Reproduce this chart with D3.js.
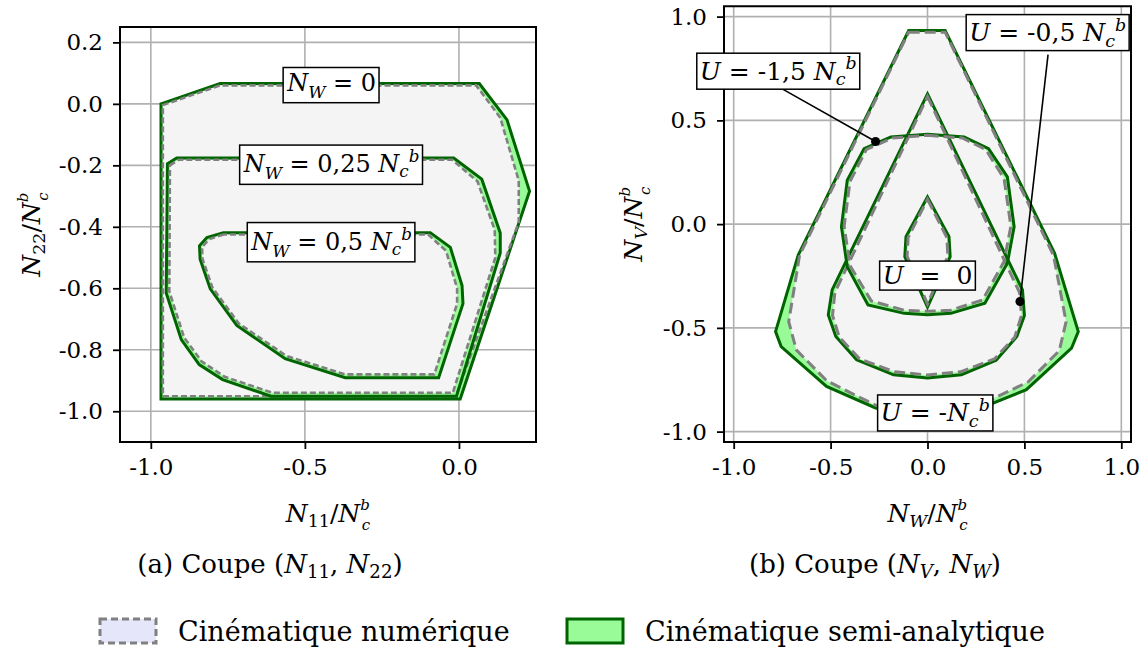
<!DOCTYPE html>
<html><head><meta charset="utf-8">
<script src="https://cdn.jsdelivr.net/npm/d3@7"></script>
<style>
body{margin:0;background:#fff}
svg{display:block}
text{font-family:"DejaVu Serif","Liberation Serif","Noto Serif",serif;white-space:pre;fill:#000}
</style>
</head><body>
<svg id="chart" width="1145" height="650"></svg>
<script>
// ---------------- DATA ----------------
// Panel (a): coupe (N11, N22), one contour per N_W level
const nwLevels = ["0", "0,25", "0,5"];
const semiA_NW0   = [[-0.967,0.0],[-0.775,0.066],[0.066,0.066],[0.156,-0.052],[0.229,-0.284],[0.004,-0.96],[-0.967,-0.96]];
const num_NW0     = [[-0.961,-0.004],[-0.775,0.060],[0.056,0.060],[0.134,-0.045],[0.194,-0.250],[0.194,-0.385],[-0.010,-0.951],[-0.961,-0.951]];
const semiA_NW025 = [[-0.946,-0.195],[-0.916,-0.176],[-0.017,-0.176],[0.074,-0.245],[0.134,-0.420],[0.134,-0.485],[-0.008,-0.951],[-0.610,-0.951],[-0.767,-0.897],[-0.843,-0.848],[-0.901,-0.767],[-0.950,-0.615]];
const num_NW025   = [[-0.938,-0.200],[-0.910,-0.182],[-0.022,-0.182],[0.060,-0.252],[0.116,-0.410],[0.118,-0.500],[-0.020,-0.940],[-0.605,-0.940],[-0.760,-0.888],[-0.835,-0.838],[-0.892,-0.760],[-0.940,-0.610]];
const semiA_NW05  = [[-0.764,-0.419],[-0.818,-0.435],[-0.842,-0.462],[-0.840,-0.505],[-0.807,-0.602],[-0.721,-0.721],[-0.564,-0.829],[-0.369,-0.891],[-0.066,-0.891],[0.013,-0.650],[0.010,-0.591],[-0.028,-0.467],[-0.093,-0.419]];
const num_NW05    = [[-0.764,-0.425],[-0.810,-0.440],[-0.834,-0.466],[-0.832,-0.505],[-0.800,-0.598],[-0.715,-0.714],[-0.560,-0.820],[-0.370,-0.880],[-0.080,-0.880],[-0.006,-0.650],[-0.006,-0.600],[-0.042,-0.478],[-0.100,-0.425]];

// Panel (b): coupe (N_V, N_W), one contour per U level
const uLevels = ["-N", "-0,5", "-1,5", "0"];
const semiA_Um1  = [[-0.097,0.933],[0.091,0.933],[0.656,-0.141],[0.778,-0.518],[0.743,-0.598],[0.510,-0.798],[0.276,-0.886],[0.0,-0.918],[-0.268,-0.886],[-0.521,-0.782],[-0.755,-0.590],[-0.784,-0.518],[-0.667,-0.149]];
const num_Um1    = [[-0.097,0.925],[0.091,0.925],[0.650,-0.150],[0.715,-0.470],[0.680,-0.610],[0.520,-0.760],[0.270,-0.872],[0.0,-0.905],[-0.270,-0.872],[-0.520,-0.755],[-0.677,-0.606],[-0.716,-0.470],[-0.660,-0.150]];
const semiA_Um05 = [[0.0,0.628],[0.490,-0.317],[0.500,-0.440],[0.461,-0.542],[0.354,-0.656],[0.175,-0.726],[0.0,-0.742],[-0.175,-0.726],[-0.366,-0.654],[-0.473,-0.542],[-0.512,-0.437],[-0.492,-0.317]];
const num_Um05   = [[0.0,0.615],[0.475,-0.330],[0.485,-0.440],[0.450,-0.545],[0.345,-0.650],[0.170,-0.712],[0.0,-0.727],[-0.170,-0.712],[-0.350,-0.650],[-0.455,-0.545],[-0.490,-0.440],[-0.478,-0.330]];
const semiA_Um15 = [[0.0,0.433],[0.189,0.420],[0.315,0.364],[0.412,0.228],[0.447,-0.013],[0.412,-0.189],[0.296,-0.381],[0.120,-0.430],[0.0,-0.437],[-0.120,-0.430],[-0.307,-0.389],[-0.414,-0.205],[-0.444,-0.013],[-0.414,0.212],[-0.327,0.364],[-0.189,0.420]];
const num_Um15   = [[0.0,0.428],[0.180,0.415],[0.300,0.360],[0.395,0.220],[0.430,-0.010],[0.395,-0.180],[0.285,-0.365],[0.120,-0.415],[0.0,-0.420],[-0.120,-0.415],[-0.290,-0.370],[-0.400,-0.200],[-0.430,-0.010],[-0.400,0.205],[-0.315,0.360],[-0.180,0.415]];
const semiA_U0   = [[0.0,0.131],[0.111,-0.061],[0.117,-0.157],[0.0,-0.400],[-0.117,-0.157],[-0.111,-0.061]];
const num_U0     = [[0.0,0.120],[0.100,-0.065],[0.105,-0.155],[0.0,-0.385],[-0.105,-0.155],[-0.100,-0.065]];

// ticks
const ticksA_x = [-1.0, -0.5, 0.0];
const ticksA_y = [0.2, 0.0, -0.2, -0.4, -0.6, -0.8, -1.0];
const ticksB = [-1.0, -0.5, 0.0, 0.5, 1.0];

// annotation anchors (data coords)
const labelsA = [
  {lvl:"0",    at:[-0.415, 0.061]},
  {lvl:"0,25", at:[-0.415,-0.198]},
  {lvl:"0,5",  at:[-0.415,-0.450]}
];
const labelsB = [
  {lvl:"-1,5", at:[-0.770, 0.737], from:[-0.752,0.653], to:[-0.268,0.398]},
  {lvl:"-0,5", at:[ 0.620, 0.923], from:[ 0.622,0.817], to:[ 0.477,-0.373]},
  {lvl:"0",    at:[ 0.000,-0.248]},
  {lvl:"-N",   at:[ 0.040,-0.910]}
];

// ---------------- STYLE ----------------
const C = {green:"#006400", lightgreen:"#98fb98", gray:"#808080", fillNum:"#f4f4f4", grid:"#b0b0b0", lavender:"#e6e6fa"};
const FONT = '"DejaVu Serif","Liberation Serif","Noto Serif",serif';

const svg = d3.select("#chart");
svg.append("rect").attr("width",1145).attr("height",650).attr("fill","#fff");

function mtext(g, x, y, parts, size, anchor) {
  const t = g.append("text").attr("x",x).attr("y",y).attr("font-size",size)
    .attr("text-anchor",anchor||"middle");
  let cur = 0;
  parts.forEach(p => {
    const o = p[1] || {};
    const fs = (o.sub||o.sup) ? size*(o.k||0.7) : size;
    const off = o.sub ? size*(o.sub===true?0.22:o.sub) : o.sup ? -size*(o.sup===true?0.38:o.sup) : 0;
    const ts = t.append("tspan").attr("dy", off-cur).attr("font-size",fs)
      .attr("font-style", o.i ? "italic" : "normal").text(p[0]);
    if (o.dx) ts.attr("dx", o.dx);
    cur = off;
  });
  return t;
}

function drawPanel(cfg) {
  const g = svg.append("g");
  const x = d3.scaleLinear().domain(cfg.xd).range(cfg.xr);
  const y = d3.scaleLinear().domain(cfg.yd).range(cfg.yr);
  const clipId = "clip"+cfg.id;
  svg.append("clipPath").attr("id",clipId).append("rect")
    .attr("x",cfg.xr[0]).attr("y",cfg.yr[1]).attr("width",cfg.xr[1]-cfg.xr[0]).attr("height",cfg.yr[0]-cfg.yr[1]);
  const gg = g.append("g").attr("clip-path",`url(#${clipId})`);
  gg.selectAll(".gx").data(cfg.xt).join("line").attr("x1",d=>x(d)).attr("x2",d=>x(d))
    .attr("y1",cfg.yr[0]).attr("y2",cfg.yr[1]).attr("stroke",C.grid).attr("stroke-width",1.6);
  gg.selectAll(".gy").data(cfg.yt).join("line").attr("y1",d=>y(d)).attr("y2",d=>y(d))
    .attr("x1",cfg.xr[0]).attr("x2",cfg.xr[1]).attr("stroke",C.grid).attr("stroke-width",1.6);
  const line = d3.line().x(d=>x(d[0])).y(d=>y(d[1])).curve(d3.curveLinearClosed);
  cfg.polys.forEach(p => {
    gg.append("path").attr("d",line(p.semi)).attr("fill",C.lightgreen).attr("stroke","none");
    gg.append("path").attr("d",line(p.num)).attr("fill",C.fillNum).attr("stroke","none");
  });
  cfg.polys.forEach(p => {
    gg.append("path").attr("d",line(p.semi)).attr("fill","none").attr("stroke",C.green)
      .attr("stroke-width",3).attr("stroke-linejoin","miter");
    gg.append("path").attr("d",line(p.num)).attr("fill","none").attr("stroke",C.gray)
      .attr("stroke-width",cfg.dashW).attr("stroke-dasharray",cfg.dash);
  });
  const ax = g.append("g").attr("transform",`translate(0,${cfg.yr[0]})`)
    .call(d3.axisBottom(x).tickValues(cfg.xt).tickSize(7).tickPadding(6));
  const ay = g.append("g").attr("transform",`translate(${cfg.xr[0]},0)`)
    .call(d3.axisLeft(y).tickValues(cfg.yt).tickSize(7).tickPadding(10));
  [ax,ay].forEach(a => {
    a.attr("font-family",FONT);
    a.select(".domain").remove();
    a.selectAll(".tick line").attr("stroke","#000").attr("stroke-width",1.8);
    a.selectAll(".tick text").attr("font-size",23)
      .text(d => d3.format(".1f")(d).replace("\u2212","-"));
  });
  ax.selectAll(".tick text").attr("dy","0.88em");
  g.append("rect").attr("x",cfg.xr[0]).attr("y",cfg.yr[1]).attr("width",cfg.xr[1]-cfg.xr[0])
    .attr("height",cfg.yr[0]-cfg.yr[1]).attr("fill","none").attr("stroke","#000").attr("stroke-width",2);
  return {g, x, y};
}

// ---------------- PANEL A ----------------
const A = drawPanel({id:"a", xd:[-1.1,0.25], yd:[-1.1,0.25], xr:[120,536], yr:[442,27],
  xt:ticksA_x, yt:ticksA_y, dash:"6,3", dashW:2.6,
  polys:[{semi:semiA_NW0,num:num_NW0},{semi:semiA_NW025,num:num_NW025},{semi:semiA_NW05,num:num_NW05}]});

// ---------------- PANEL B ----------------
const B = drawPanel({id:"b", xd:[-1.05,1.05], yd:[-1.05,1.05], xr:[724,1131], yr:[442,6.25],
  xt:ticksB, yt:ticksB, dash:"11,5", dashW:3,
  polys:[{semi:semiA_Um1,num:num_Um1},{semi:semiA_Um05,num:num_Um05},{semi:semiA_Um15,num:num_Um15},{semi:semiA_U0,num:num_U0}]});

function boxLabel(g, cx, cy, parts, size, padX, padY) {
  const t = mtext(g, 0, 0, parts, size, "start");
  const bb = t.node().getBBox();
  const tx = cx - (bb.x + bb.width/2), ty = cy - (bb.y + bb.height/2);
  t.attr("transform",`translate(${tx},${ty})`);
  g.insert("rect", () => t.node())
    .attr("x", cx - bb.width/2 - padX).attr("y", cy - bb.height/2 - padY)
    .attr("width", bb.width + 2*padX).attr("height", bb.height + 2*padY)
    .attr("fill","#fff").attr("stroke","#000").attr("stroke-width",1.5);
}

// labels A
const la = svg.append("g");
labelsA.forEach(l => {
  const parts = [["N",{i:true}],["W",{i:true,sub:0.3}],[" = "+l.lvl,{}]];
  if (l.lvl !== "0") parts.push([" "],["N",{i:true}],["c",{i:true,sub:0.22}],["b",{i:true,sup:0.42}]);
  boxLabel(la, A.x(l.at[0]), A.y(l.at[1]), parts, 24, 3, 1);
});

// labels B
const lb = svg.append("g");
labelsB.forEach(l => {
  if (l.from) {
    lb.append("line").attr("x1",B.x(l.from[0])).attr("y1",B.y(l.from[1]))
      .attr("x2",B.x(l.to[0])).attr("y2",B.y(l.to[1])).attr("stroke","#000").attr("stroke-width",1.6);
    lb.append("circle").attr("cx",B.x(l.to[0])).attr("cy",B.y(l.to[1])).attr("r",4.5).attr("fill","#000");
  }
  let parts;
  if (l.lvl === "0") parts = [["U",{i:true}],["  =  0",{}]];
  else if (l.lvl === "-N") parts = [["U",{i:true}],[" = -",{}],["N",{i:true}],["c",{i:true,sub:0.22}],["b",{i:true,sup:0.42}]];
  else parts = [["U",{i:true}],[" = "+l.lvl+" ",{}],["N",{i:true}],["c",{i:true,sub:0.22}],["b",{i:true,sup:0.42}]];
  boxLabel(lb, B.x(l.at[0]), B.y(l.at[1]), parts, 25, 3, 0);
});

// axis labels (N_c^b with stacked sub/superscript)
function axisParts(sub, subItalic) {
  return [["N",{i:true}],[sub,{sub:0.2, i:subItalic}],["/",{}],["N",{i:true}],
          ["b",{i:true,sup:0.47,k:0.6}],["c",{i:true,sub:0.3,k:0.6,dx:-8}]];
}
mtext(svg, 328, 522, axisParts("11",false), 25);
mtext(svg, 927.5, 522, axisParts("W",true), 25);
mtext(svg, 0, 0, axisParts("22",false), 25).attr("transform","translate(40,234.5) rotate(-90)");
mtext(svg, 0, 0, axisParts("V",true), 25).attr("transform","translate(642,224) rotate(-90)");

// captions
mtext(svg, 270, 573, [["(a) Coupe (",{}],["N",{i:true}],["11",{sub:0.2}],[", ",{}],["N",{i:true}],["22",{sub:0.2}],[")",{}]], 26);
mtext(svg, 875, 573, [["(b) Coupe (",{}],["N",{i:true}],["V",{sub:0.2,i:true}],[", ",{}],["N",{i:true}],["W",{sub:0.2,i:true}],[")",{}]], 26);

// legend
const leg = svg.append("g");
const legItems = [
  {label:"Cinématique numérique", x:100, fill:C.lavender, stroke:C.gray, dash:"7,4"},
  {label:"Cinématique semi-analytique", x:567, fill:C.lightgreen, stroke:C.green, dash:null}
];
legItems.forEach(it => {
  const r = leg.append("rect").attr("x",it.x).attr("y",619).attr("width",56).attr("height",24)
    .attr("fill",it.fill).attr("stroke",it.stroke).attr("stroke-width",3);
  if (it.dash) r.attr("stroke-dasharray",it.dash);
  leg.append("text").attr("x",it.x+78).attr("y",641).attr("font-size",27).text(it.label);
});
</script>
</body></html>
